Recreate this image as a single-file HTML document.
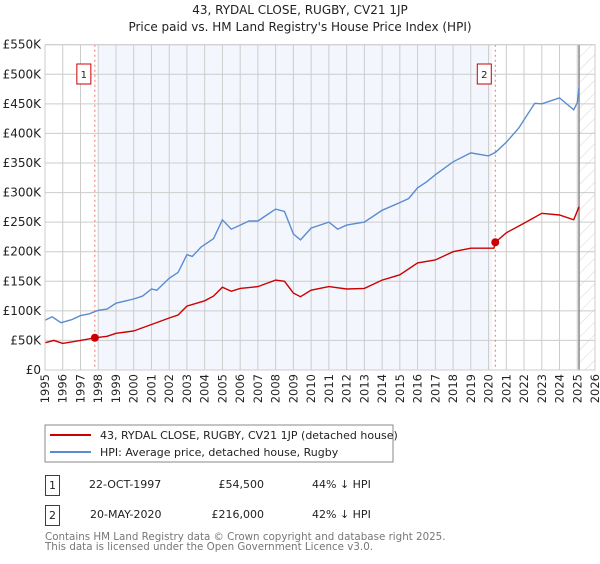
<!DOCTYPE html>
<html><head><meta charset="utf-8"><style>
body{margin:0;background:#fff;font-family:"DejaVu Sans","Liberation Sans",sans-serif;}
svg text{font-family:"DejaVu Sans","Liberation Sans",sans-serif;}
</style></head><body>
<svg id="c" width="600" height="560" xmlns="http://www.w3.org/2000/svg">
<defs><pattern id="hatch" width="9" height="9" patternUnits="userSpaceOnUse" patternTransform="rotate(45)"><line x1="0" y1="0" x2="0" y2="9" stroke="#ccc" stroke-width="0.8"/></pattern></defs>
<text x="300" y="14" text-anchor="middle" font-size="12" fill="#222">43, RYDAL CLOSE, RUGBY, CV21 1JP</text>
<text x="300" y="31" text-anchor="middle" font-size="12" fill="#222">Price paid vs. HM Land Registry's House Price Index (HPI)</text>
<g id="plot"></g>
<rect x="45" y="425" width="348" height="37" fill="#fff" stroke="#888"/>
<line x1="50" y1="435" x2="91" y2="435" stroke="#cc0000" stroke-width="2"/>
<text x="100" y="439" font-size="11" fill="#222">43, RYDAL CLOSE, RUGBY, CV21 1JP (detached house)</text>
<line x1="50" y1="452" x2="91" y2="452" stroke="#5b8bd0" stroke-width="2"/>
<text x="100" y="456" font-size="11" fill="#222">HPI: Average price, detached house, Rugby</text>
<g>
<rect x="45.5" y="475.5" width="14" height="20" fill="none" stroke="#cc0000"/>
<text x="52.5" y="489" font-size="11" text-anchor="middle" fill="#222">1</text>
<text x="89" y="488" font-size="11" fill="#222">22-OCT-1997</text>
<text x="264" y="488" font-size="11" text-anchor="end" fill="#222">£54,500</text>
<text x="312" y="488" font-size="11" fill="#222">44% ↓ HPI</text></g>
<g>
<rect x="45.5" y="505.5" width="14" height="20" fill="none" stroke="#cc0000"/>
<text x="52.5" y="519" font-size="11" text-anchor="middle" fill="#222">2</text>
<text x="90" y="518" font-size="11" fill="#222">20-MAY-2020</text>
<text x="264" y="518" font-size="11" text-anchor="end" fill="#222">£216,000</text>
<text x="312" y="518" font-size="11" fill="#222">42% ↓ HPI</text></g>
<text x="45" y="540" font-size="10.3" fill="#777">Contains HM Land Registry data © Crown copyright and database right 2025.</text>
<text x="45" y="550" font-size="10.3" fill="#777">This data is licensed under the Open Government Licence v3.0.</text>
</svg>
<script>
const hpiYears=[1995,1995.4,1995.9,1996.5,1997,1997.5,1998,1998.5,1999,2000,2000.5,2001,2001.3,2002,2002.5,2003,2003.3,2003.8,2004.5,2005,2005.5,2006,2006.5,2007,2007.5,2008,2008.5,2009,2009.4,2010,2011,2011.5,2012,2013,2014,2015,2015.5,2016,2016.5,2017,2018,2019,2020,2020.4,2021,2021.7,2022.6,2023,2024,2024.8,2025,2025.1];
const hpiValues=[84,90,80,85,92,95,101,103,113,120,125,137,135,155,165,195,192,208,222,254,238,245,252,252,262,272,268,230,220,240,250,238,245,250,270,283,290,308,318,330,352,367,362,368,385,409,451,450,460,440,452,477];
const ppYears=[1995,1995.5,1996,1997,1997.81,1998.5,1999,2000,2001,2002,2002.5,2003,2004,2004.5,2005,2005.5,2006,2007,2008,2008.5,2009,2009.4,2010,2011,2012,2013,2014,2015,2016,2017,2018,2019,2020.3,2020.38,2021,2022,2023,2024,2024.8,2025.1];
const ppValues=[46,50,45,50,54.5,57,62,66,77,88,93,108,117,125,140,133,138,141,152,150,130,124,135,141,137,138,152,161,181,186,200,206,206,216,232,248,265,262,254,276];
const sales=[{n:"1",year:1997.81,value:54.5},{n:"2",year:2020.38,value:216}];
const yTicks=[0,50,100,150,200,250,300,350,400,450,500,550];
const yTickLabels=["£0","£50K","£100K","£150K","£200K","£250K","£300K","£350K","£400K","£450K","£500K","£550K"];
const xTicks=[];for(let y=1995;y<=2026;y++)xTicks.push(y);
const X0=45,X1=595,Y0=370,Y1=44.7;
const sx=y=>X0+(y-1995)/(2026-1995)*(X1-X0);
const sy=v=>Y0-v/550*(Y0-Y1);
const g=document.getElementById('plot');const NS="http://www.w3.org/2000/svg";
function mk(t,a,p){const e=document.createElementNS(NS,t);for(const k in a)e.setAttribute(k,a[k]);(p||g).appendChild(e);return e;}
let e=mk('rect',{x:sx(1998),y:Y1,width:sx(2020.2)-sx(1998),height:Y0-Y1,fill:'#eef3fc',opacity:0.7});


e=mk('rect',{x:sx(2025.1),y:Y1,width:X1-sx(2025.1),height:Y0-Y1,fill:'url(#hatch)'});


xTicks.forEach(y=>{const l=mk('line',{x1:sx(y),x2:sx(y),y1:Y1,y2:Y0,stroke:'#ccc'});


const t=mk('text',{x:sx(y)+4,y:Y0+4,'font-size':11.5,fill:'#222','text-anchor':'end',transform:`rotate(-90 ${sx(y)+4} ${Y0+4})`});t.textContent=y;

});
yTicks.forEach((v,i)=>{const l=mk('line',{x1:X0,x2:X1,y1:sy(v),y2:sy(v),stroke:'#ccc'});


const t=mk('text',{x:X0-4,y:sy(v)+4,'font-size':12,fill:'#222','text-anchor':'end'});t.textContent=yTickLabels[i];

});
e=mk('line',{x1:sx(2025.1),x2:sx(2025.1),y1:Y1,y2:Y0,stroke:'#888','stroke-width':1.5});


sales.forEach(s=>{const l=mk('line',{x1:sx(s.year),x2:sx(s.year),y1:Y1,y2:Y0,stroke:'#f07070','stroke-dasharray':'2,3'});

});
function path(xs,vs,c,name){const d=xs.map((y,i)=>(i?'L':'M')+sx(y).toFixed(1)+','+sy(vs[i]).toFixed(1)).join('');
const p=mk('path',{d:d,fill:'none',stroke:c,'stroke-width':1.4});

}
path(hpiYears,hpiValues,'#5b8bd0','hpi-line');
path(ppYears,ppValues,'#cc0000','price-paid-line');
sales.forEach(s=>{const c=mk('circle',{cx:sx(s.year),cy:sy(s.value),r:4,fill:'#cc0000'});


const bx=sx(s.year)-11;const r=mk('rect',{x:bx-7,y:64,width:14,height:20,fill:'#fff',stroke:'#cc0000'});


const t=mk('text',{x:bx,y:78,'font-size':10,'text-anchor':'middle',fill:'#222'});t.textContent=s.n;

});
e=mk('rect',{x:X0,y:Y1,width:X1-X0,height:Y0-Y1,fill:'none',stroke:'#ccc'});


</script>
</body></html>
